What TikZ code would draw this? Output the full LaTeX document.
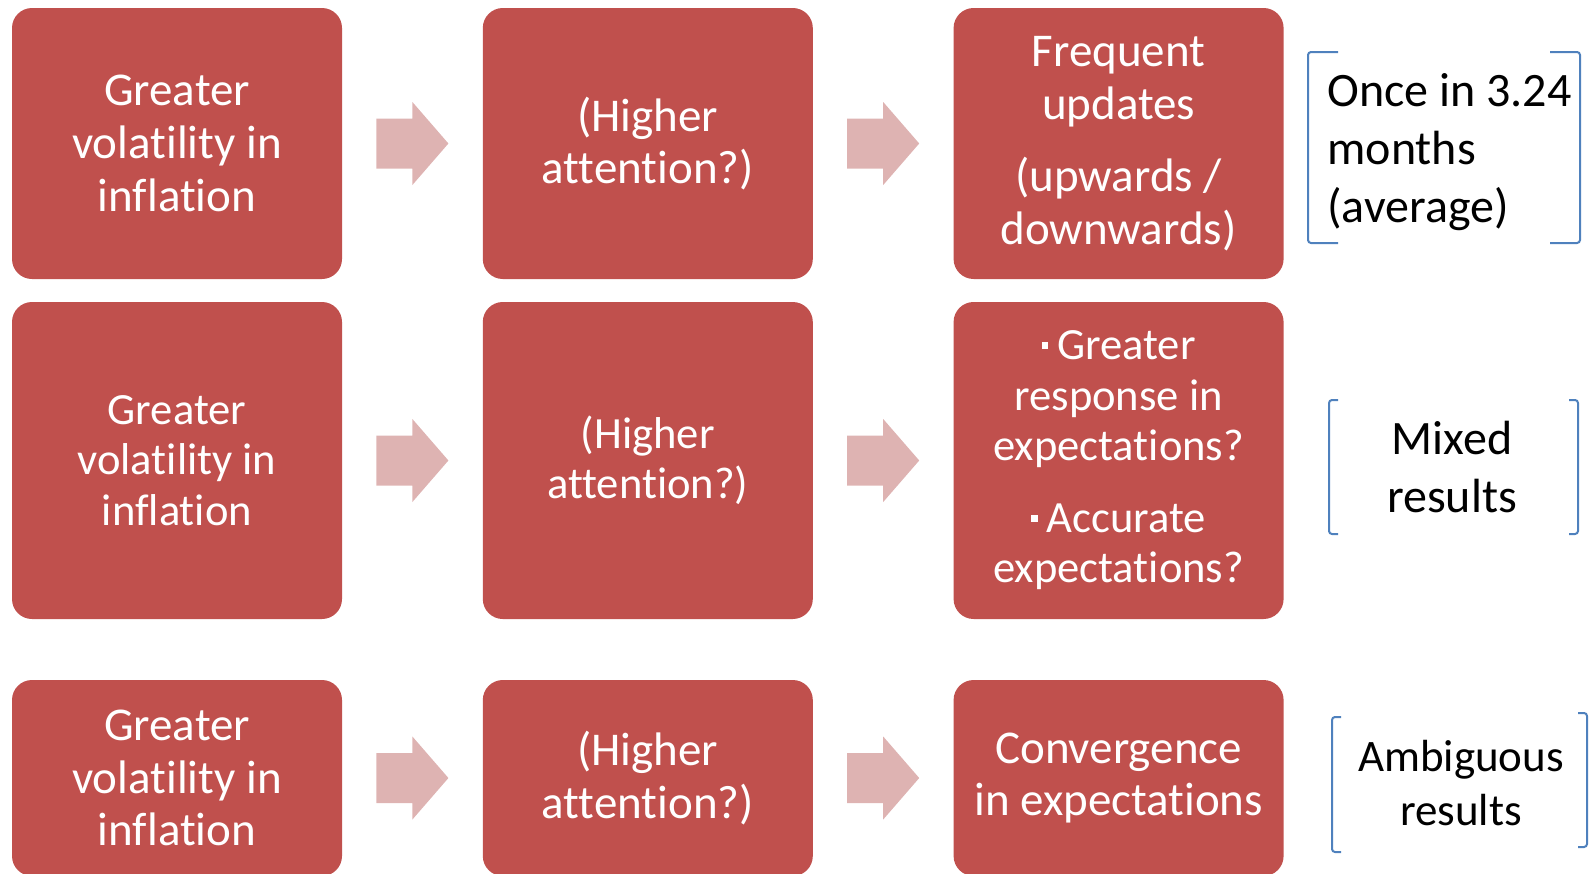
\documentclass[tikz,border=0pt]{standalone}
\usepackage{fontspec}
\setmainfont[Ligatures=NoCommon]{Carlito}
\usetikzlibrary{positioning, calc}
\definecolor{boxred}{RGB}{192,80,77}
\definecolor{arrowpink}{RGB}{222,179,178}
\definecolor{bracketblue}{RGB}{79,129,189}
% block arrow centred on a coordinate
\newcommand{\blockarrow}[1]{%
  \fill[arrowpink] (#1) ++(-36,-25) -- ++(36,0) -- ++(0,-16.5) -- ++(36,41.5)
    -- ++(-36,41.5) -- ++(0,-16.5) -- ++(-36,0) -- cycle;}
% one square bracket: x, top, bottom, serif (signed)
\newcommand{\sqbracket}[4]{%
  \draw[bracket] (#1,#2) ++(#4,0) -- (#1,#2) -- (#1,#3) -- ++(#4,0);}
\newcommand{\sqbullet}{\rule[5.5pt]{3.3pt}{3.3pt}\hspace{4.5pt}}

\begin{document}
\begin{tikzpicture}[x=0.5pt, y=-0.5pt,
    box/.style={fill=boxred, rounded corners=10pt, minimum width=165pt, inner sep=0pt,
      text=white, align=center, font=\fontsize{23.5}{26.3}\selectfont},
    smaller/.style={font=\fontsize{22.3}{25.1}\selectfont},
    note/.style={inner sep=0pt, font=\fontsize{24}{29}\selectfont},
    bracket/.style={draw=bracketblue, line width=1pt, rounded corners=1.5pt}]
    \clip (0,0) rectangle (1589,873);
    % first row
    \node[box, minimum height=135.5pt] (b11) at (177,143.5) {Greater\\volatility in\\inflation};
    \node[box, minimum height=135.5pt] (b12) [right=70pt of b11] {(Higher\\attention?)};
    \node[box, minimum height=135.5pt] (b13) [right=70pt of b12] {Frequent\\updates\\[10pt](upwards /\\downwards)};
    % second row
    \node[box, smaller, minimum height=158.5pt] (b21) at (177,460.5) {Greater\\volatility in\\inflation};
    \node[box, smaller, minimum height=158.5pt] (b22) [right=70pt of b21] {(Higher\\attention?)};
    \node[box, smaller, minimum height=158.5pt] (b23) [right=70pt of b22]
      {\sqbullet Greater\\response in\\expectations?\\[11pt]\sqbullet Accurate\\expectations?};
    % third row
    \node[box, minimum height=98pt] (b31) at (177,778) {Greater\\volatility in\\inflation};
    \node[box, minimum height=98pt] (b32) [right=70pt of b31] {(Higher\\attention?)};
    \node[box, minimum height=98pt] (b33) [right=70pt of b32] {Convergence\\in expectations};

    \coordinate (a11) at ($(b11.east)!0.5!(b12.west)$);
    \coordinate (a12) at ($(b12.east)!0.5!(b13.west)$);
    \coordinate (a21) at ($(b21.east)!0.5!(b22.west)$);
    \coordinate (a22) at ($(b22.east)!0.5!(b23.west)$);
    \coordinate (a31) at ($(b31.east)!0.5!(b32.west)$);
    \coordinate (a32) at ($(b32.east)!0.5!(b33.west)$);
    \blockarrow{a11} \blockarrow{a12}
    \blockarrow{a21} \blockarrow{a22}
    \blockarrow{a31} \blockarrow{a32}

    % notes on the right
    \node[note, anchor=west, align=left] (n1) at (1327,152) {Once in 3.24\\months\\(average)};
    \node[note, align=center] (n2) at (1452,467) {Mixed\\results};
    \node[note, align=center, font=\fontsize{22.5}{27.4}\selectfont] (n3) at (1461,783) {Ambiguous\\results};
    \sqbracket{1308}{52}{243}{30}
    \sqbracket{1580}{52}{243}{-30}
    \sqbracket{1329}{400}{534}{9}
    \sqbracket{1578}{400}{534}{-9}
    \sqbracket{1332}{717}{852}{9}
    \sqbracket{1587}{713}{847}{-9}
\end{tikzpicture}
\end{document}
